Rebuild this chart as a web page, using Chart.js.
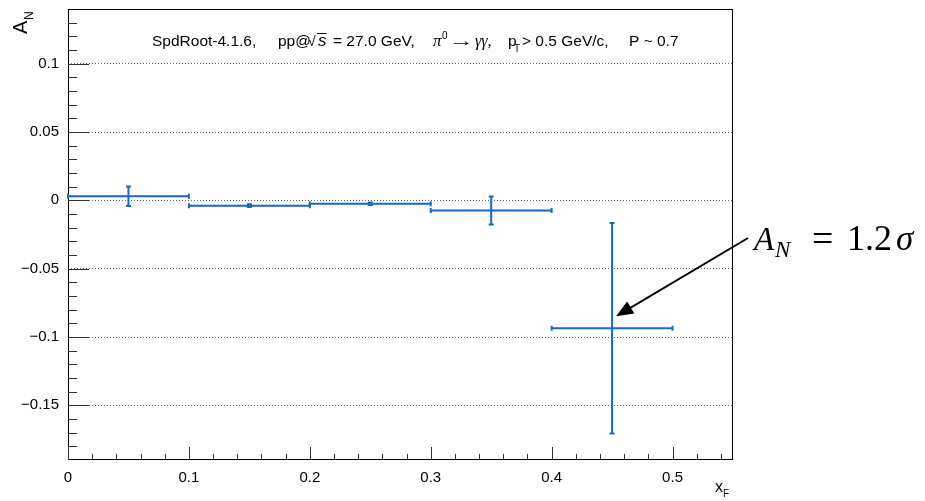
<!DOCTYPE html>
<html>
<head>
<meta charset="utf-8">
<script src="https://cdn.jsdelivr.net/npm/chart.js@4.4.1/dist/chart.umd.min.js"></script>
<style>
  body { margin: 0; background: #fff; }
  canvas { display: block; }
</style>
</head>
<body>
<canvas id="anChart" width="925" height="501"></canvas>
<script>
// A_N vs x_F, SpdRoot pi0 asymmetry
const xCenters = [0.05, 0.15, 0.25, 0.35, 0.45];
const xHalfWidths = [0.05, 0.05, 0.05, 0.05, 0.05];
const anValues = [0.0030, -0.0039, -0.0025, -0.0074, -0.0936];
const anErrors = [0.0072, 0.0010, 0.0009, 0.0102, 0.0770];

const xTicks = [0, 0.1, 0.2, 0.3, 0.4, 0.5];
const xTickLabels = ["0", "0.1", "0.2", "0.3", "0.4", "0.5"];
const yTicks = [0.1, 0.05, 0, -0.05, -0.1, -0.15];
const yTickLabels = ["0.1", "0.05", "0", "\u22120.05", "\u22120.1", "\u22120.15"];

const blue = "#1767cc";
const sans = "'Liberation Sans', Arial, sans-serif";
const serif = "'Liberation Serif', 'DejaVu Serif', serif";

// each piece: text, x, font, optional dy, horizontal stretch and overline
function drawAt(ctx, y, pieces) {
    pieces.forEach(p => {
        ctx.font = p.font;
        ctx.save();
        ctx.translate(p.x, y + (p.dy || 0));
        ctx.scale(p.sx || 1, 1);
        ctx.fillText(p.t, 0, 0);
        ctx.restore();
        if (p.over) {
            const w = ctx.measureText(p.t).width;
            ctx.fillRect(p.x - 1, y + p.over, w + 1, 1);
        }
    });
}

const rootStyle = {
    id: "rootStyle",
    afterDraw(chart) {
        const ctx = chart.ctx;
        const xs = chart.scales.x;
        const ys = chart.scales.y;
        const a = chart.chartArea;
        ctx.save();

        // frame
        ctx.strokeStyle = "#000";
        ctx.lineWidth = 1;
        ctx.strokeRect(a.left + 0.5, a.top + 0.5, a.right - a.left - 1, a.bottom - a.top - 1);

        // inner ticks on the y axis
        ctx.strokeStyle = "#333";
        for (let i = -19; i <= 14; i++) {
            const py = Math.round(ys.getPixelForValue(i / 100)) + 0.5;
            if (py < a.top + 2 || py > a.bottom - 2) continue;
            const len = (i % 5 === 0) ? 21 : 9;
            ctx.beginPath();
            ctx.moveTo(a.left, py);
            ctx.lineTo(a.left + len, py);
            ctx.stroke();
        }
        // inner ticks on the x axis
        for (let i = 0; i <= 27; i++) {
            const px = Math.round(xs.getPixelForValue(i / 50)) + 0.5;
            const len = (i % 5 === 0) ? 13 : 6;
            ctx.beginPath();
            ctx.moveTo(px, a.bottom);
            ctx.lineTo(px, a.bottom - len);
            ctx.stroke();
        }

        // error bars
        ctx.strokeStyle = blue;
        ctx.lineWidth = 2;
        xCenters.forEach((xc, i) => {
            const px = xs.getPixelForValue(xc);
            const x0 = xs.getPixelForValue(xc - xHalfWidths[i]);
            const x1 = xs.getPixelForValue(xc + xHalfWidths[i]);
            const py = ys.getPixelForValue(anValues[i]);
            const y0 = ys.getPixelForValue(anValues[i] + anErrors[i]);
            const y1 = ys.getPixelForValue(anValues[i] - anErrors[i]);
            ctx.beginPath();
            ctx.moveTo(x0, py); ctx.lineTo(x1, py);
            ctx.moveTo(px, y0); ctx.lineTo(px, y1);
            ctx.moveTo(x0, py - 2.5); ctx.lineTo(x0, py + 2.5);
            ctx.moveTo(x1, py - 2.5); ctx.lineTo(x1, py + 2.5);
            ctx.moveTo(px - 2.5, y0); ctx.lineTo(px + 2.5, y0);
            ctx.moveTo(px - 2.5, y1); ctx.lineTo(px + 2.5, y1);
            ctx.stroke();
        });

        // header text
        ctx.fillStyle = "#000";
        ctx.textBaseline = "alphabetic";
        ctx.textAlign = "left";
        const f = "15.5px " + sans;
        const fs = "10px " + sans;
        drawAt(ctx, 46, [
            { t: "SpdRoot-4.1.6,", x: 152, font: f },
            { t: "pp@", x: 278, font: f },
            { t: "\u221a", x: 308, font: "14px " + sans },
            { t: "s", x: 318, font: "italic 17px " + sans, over: -13 },
            { t: "= 27.0 GeV,", x: 333, font: f },
            { t: "\u03c0", x: 433, font: "italic 17px " + serif },
            { t: "0", x: 442, font: fs, dy: -7 },
            { t: "\u2192", x: 449, font: f, sx: 1.6 },
            { t: "\u03b3\u03b3,", x: 475, font: "italic 16px " + serif },
            { t: "p", x: 508, font: f },
            { t: "T", x: 514, font: fs, dy: 6 },
            { t: "> 0.5 GeV/c,", x: 522, font: f },
            { t: "P ~ 0.7", x: 629, font: f }
        ]);

        // axis titles
        ctx.save();
        ctx.translate(27, 34);
        ctx.rotate(-Math.PI / 2);
        drawAt(ctx, 0, [
            { t: "A", x: 0, font: "20px " + sans },
            { t: "N", x: 14, font: "12px " + sans, dy: 6 }
        ]);
        ctx.restore();
        drawAt(ctx, 492, [
            { t: "x", x: 715, font: "16px " + sans },
            { t: "F", x: 723, font: "10px " + sans, dy: 5 }
        ]);

        // annotation arrow pointing at the last bin
        const last = xCenters.length - 1;
        const tipX = xs.getPixelForValue(xCenters[last]) + 4;
        const tipY = ys.getPixelForValue(anValues[last]) - 12;
        const sx = 748, sy = 238;
        const ang = Math.atan2(tipY - sy, tipX - sx);
        const c = Math.cos(ang), s = Math.sin(ang);
        const hl = 17, hw = 7;
        ctx.strokeStyle = "#000";
        ctx.lineWidth = 2;
        ctx.beginPath();
        ctx.moveTo(sx, sy);
        ctx.lineTo(tipX - c * hl * 0.8, tipY - s * hl * 0.8);
        ctx.stroke();
        ctx.fillStyle = "#000";
        ctx.beginPath();
        ctx.moveTo(tipX, tipY);
        ctx.lineTo(tipX - c * hl - s * hw, tipY - s * hl + c * hw);
        ctx.lineTo(tipX - c * hl + s * hw, tipY - s * hl - c * hw);
        ctx.closePath();
        ctx.fill();

        drawAt(ctx, 250, [
            { t: "A", x: 754, font: "italic 33px " + serif },
            { t: "N", x: 775, font: "italic 23px " + serif, dy: 7 },
            { t: "=", x: 812, font: "38px " + serif, dy: 1 },
            { t: "1.2", x: 847, font: "36px " + serif },
            { t: "\u03c3", x: 896, font: "italic 35px " + serif }
        ]);

        ctx.restore();
    }
};

const ctx = document.getElementById("anChart");

new Chart(ctx, {
    type: "scatter",
    data: {
        datasets: [{
            label: "A_N",
            data: xCenters.map((x, i) => ({ x: x, y: anValues[i] })),
            pointRadius: 0,
            showLine: false
        }]
    },
    options: {
        responsive: false,
        animation: false,
        layout: { padding: { top: 9, right: 192, left: 0, bottom: 0 } },
        plugins: {
            legend: { display: false },
            tooltip: { enabled: false }
        },
        scales: {
            x: {
                type: "linear",
                min: 0,
                max: 0.55,
                afterBuildTicks: s => { s.ticks = xTicks.map(v => ({ value: v })); },
                afterFit: s => { s.height = 41; s.paddingLeft = 0; s.paddingRight = 0; },
                grid: { display: false, drawTicks: false },
                border: { display: false },
                ticks: {
                    autoSkip: false,
                    maxRotation: 0,
                    padding: 9,
                    color: "#000",
                    font: { family: sans, size: 15 },
                    callback: (v, i) => xTickLabels[i]
                }
            },
            y: {
                type: "linear",
                min: -0.19,
                max: 0.14,
                afterBuildTicks: s => { s.ticks = yTicks.map(v => ({ value: v })); },
                afterFit: s => { s.width = 68; s.paddingTop = 0; s.paddingBottom = 0; },
                grid: { color: "#666", lineWidth: 1, drawTicks: false },
                border: { display: false, dash: [1, 2] },
                ticks: {
                    autoSkip: false,
                    padding: 9,
                    color: "#000",
                    font: { family: sans, size: 15 },
                    callback: (v, i) => yTickLabels[i]
                }
            }
        }
    },
    plugins: [rootStyle]
});
</script>
</body>
</html>
